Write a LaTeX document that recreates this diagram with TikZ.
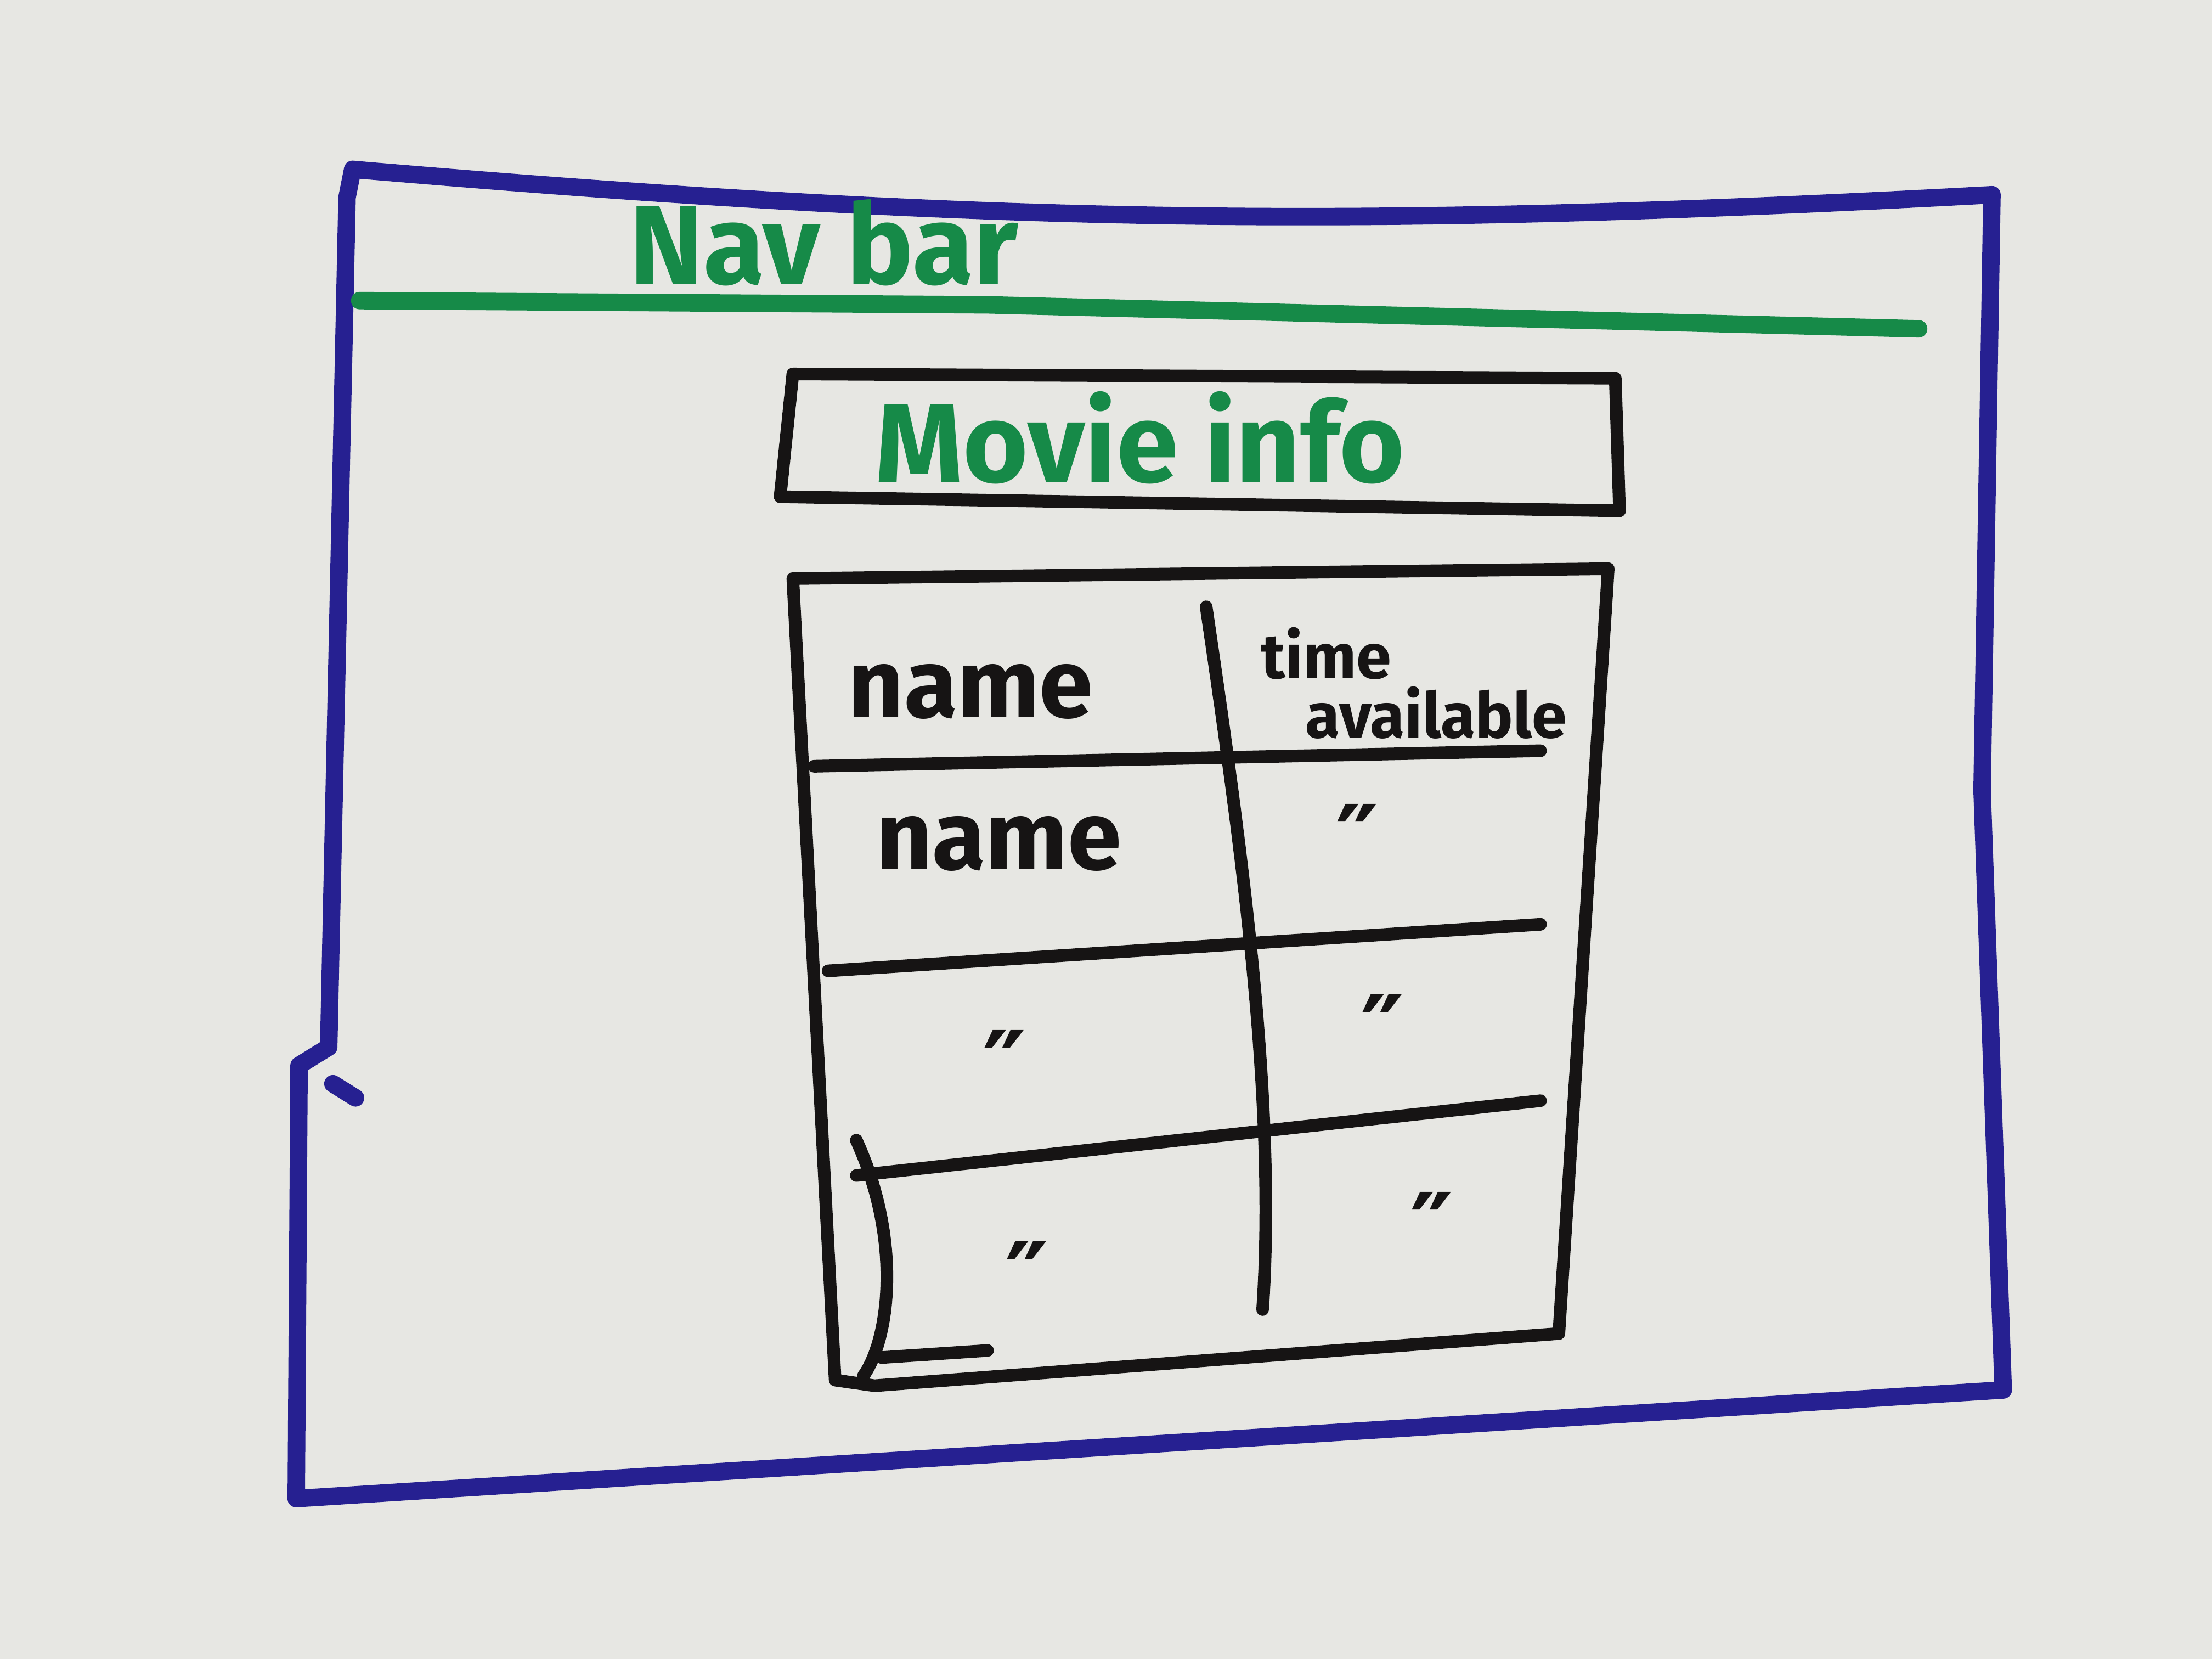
\documentclass[tikz,border=0pt]{standalone}
\usepackage{fontspec}
\setmainfont{Fira Sans}
\newfontfamily\dittofont{DejaVu Sans}
\usepackage{tikz}
\usetikzlibrary{calc}
\definecolor{boardgray}{RGB}{231,231,227}
\definecolor{markblue}{RGB}{38,32,145}
\definecolor{markgreen}{RGB}{22,138,72}
\definecolor{markblack}{RGB}{22,20,20}
\tikzset{
  bluepen/.style={line width=3.6pt, markblue, line cap=round, line join=round},
  greenpen/.style={line width=3.6pt, markgreen, line cap=round},
  blackpen/.style={line width=2.6pt, markblack, line cap=round, line join=round},
  greentext/.style={text=markgreen, font=\bfseries\fontsize{23}{25}\selectfont},
  blacktext/.style={text=markblack, font=\bfseries\fontsize{20}{22}\selectfont},
  smalltext/.style={text=markblack, font=\bfseries\fontsize{13}{15}\selectfont},
  dittotext/.style={text=markblack, font=\dittofont\bfseries\fontsize{20}{22}\selectfont},
}

\begin{document}
\begin{tikzpicture}[x=0.010204cm, y=-0.010204cm]
\fill[boardgray] (0,0) rectangle (1568,1176);
\useasboundingbox (0,0) rectangle (1568,1176);
% page frame
\coordinate (ftl) at (250,120); \coordinate (ftr) at (1412,138);
\coordinate (fbr) at (1420,985); \coordinate (fbl) at (210,1062);
\draw[bluepen] (ftl) to[bend right=4] (ftr) -- (1405,560) -- (fbr) -- (fbl) -- (212,755) -- (233,742) -- (246,140) -- cycle;
\draw[bluepen] (236,768) -- (252,778);
% nav bar
\draw[greenpen] (255,213) -- (700,216) -- (1360,233);
\node[greentext] (navlabel) at (584,172) {Nav bar};
% movie info box
\draw[blackpen] (562,265) -- (1145,268) -- (1148,362) -- (553,352) -- cycle;
\node[greentext] (infolabel) at (808,310) {Movie info};
% table
\coordinate (ttl) at (562,410); \coordinate (ttr) at (1140,403);
\coordinate (tbr) at (1105,945); \coordinate (tbl) at (592,978);
\draw[blackpen] (tbl) -- (ttl) -- (ttr) -- (tbr) -- (620,982) -- cycle;
\foreach \xa/\ya/\yb in {577/543/532, 587/688/655, 607/833/780} \draw[blackpen] (\xa,\ya) -- (1092,\yb);
\draw[blackpen] (855,430) .. controls (880,600) and (905,780) .. (895,928);
\draw[blackpen] (607,808) .. controls (640,880) and (630,950) .. (612,975);
\draw[blackpen] (625,962) -- (700,957);
\node[blacktext] (hdrname) at (688,490) {name};
\node[smalltext] (hdrtime) at (940,463) {time};
\node[smalltext] (hdravail) at (1018,505) {available};
\node[blacktext] (rowname) at (708,598) {name};
\foreach \x/\y [count=\i] in {962/595, 712/755, 980/730, 728/905, 1015/870} \node[dittotext] (ditto\i) at (\x,\y) {″};
\end{tikzpicture}
\end{document}
